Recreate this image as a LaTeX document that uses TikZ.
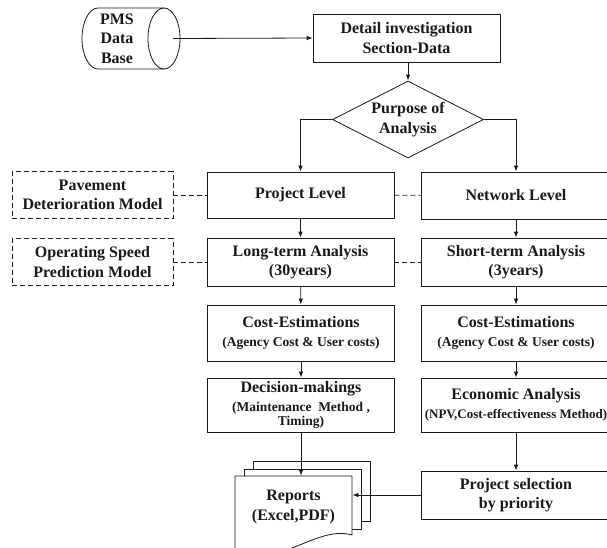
\documentclass[tikz,border=0pt]{standalone}
\usepackage{fontspec}
\setmainfont{Liberation Serif}
\usetikzlibrary{shapes.geometric,arrows.meta}
\newcommand\headfont{\fontsize{16}{19.5}\selectfont\bfseries}
\newcommand\subfont{\fontsize{13.5}{16}\selectfont\bfseries}
\tikzset{
  box/.style={draw,align=center,inner sep=0pt,font=\headfont},
  leftbox/.style={box,minimum width=187pt},
  rightbox/.style={box,minimum width=190pt},
  modelbox/.style={box,dash pattern=on 5pt off 3pt,minimum width=161pt,minimum height=47pt},
  link/.style={dash pattern=on 5pt off 3pt},
}
\begin{document}
\begin{tikzpicture}[x=1pt,y=-1pt,line width=0.8pt,color=black!90,
  >={Latex[length=6pt,width=4.5pt]}]
  \useasboundingbox (0,0) rectangle (607,547);
  \clip (0,0) rectangle (607,547);
  % data base drum
  \draw (164,8) arc(-90:90:16 and 30.5) -- (98,69) arc(90:270:16 and 30.5) -- cycle;
  \draw (164,8) arc(-90:-270:16 and 30.5);
  \node[font=\headfont,align=center,inner sep=0pt] (db) at (117,38.5) {PMS\\Data\\Base};
  \coordinate (dbcap) at (173,38.5);
  % top part
  \node[box,minimum width=187pt,minimum height=48pt] (detail) at (406.5,38) {Detail investigation\\Section-Data};
  \node[diamond,draw,aspect=1.96,minimum width=151pt,minimum height=77pt,inner sep=0pt,
    align=center,font=\headfont] (purpose) at (408,119.5) {Purpose of\\Analysis};
  % models
  \node[modelbox] (pavement) at (92.5,195) {Pavement\\Deterioration Model};
  \node[modelbox] (operating) at (92.5,262) {Operating Speed\\Prediction Model};
  % project level column
  \node[leftbox,minimum height=46pt] (project) at (300.5,195) {Project Level};
  \node[leftbox,minimum height=48pt] (longterm) at (300.5,262) {Long-term Analysis\\(30years)};
  \node[leftbox,minimum height=56pt] (costL) at (301,333)
    {Cost-Estimations\\{\subfont(Agency Cost \& User costs)}};
  \node[leftbox,minimum height=54pt] (decision) at (301,405)
    {Decision-makings\\[-1pt]{\subfont(Maintenance \ Method ,}\\[-5pt]{\subfont Timing)}};
  % network level column
  \node[rightbox,minimum height=47pt] (network) at (516,195.5) {Network Level};
  \node[rightbox,minimum height=48pt] (shortterm) at (516,262) {Short-term Analysis\\(3years)};
  \node[rightbox,minimum height=56pt] (costR) at (516,333)
    {Cost-Estimations\\{\subfont(Agency Cost \& User costs)}};
  \node[rightbox,minimum height=54pt] (economic) at (516,405)
    {Economic Analysis\\{\fontsize{13}{16}\selectfont\bfseries(NPV,Cost-effectiveness Method)}};
  \node[rightbox,minimum height=48pt] (selection) at (516,495) {Project selection\\by priority};
  % reports
  \draw[fill=white] (253,461) rectangle (370,521);
  \draw[fill=white] (244,469) rectangle (361,529);
  \draw[fill=white] (235,476) -- (352,476) -- (352,535)
    .. controls (318,525) and (282,566) .. (235,556) -- cycle;
  \node[minimum width=117pt,minimum height=62pt,align=center,inner sep=0pt,font=\headfont]
    (reports) at (293.5,507) {Reports\\(Excel,PDF)};
  % connectors
  \draw[->] (dbcap) -- (detail.west);
  \draw[->] (detail.south -| purpose.north) -- (purpose.north);
  \draw[->] (purpose.west) -| (project);
  \draw[->] (purpose.east) -| (network);
  \foreach \a/\b in {project/longterm,longterm/costL,costL/decision,
    network/shortterm,shortterm/costR,costR/economic,economic/selection}
    \draw[->] (\a) -- (\b);
  \foreach \a/\b in {pavement/project,operating/longterm,project/network,longterm/shortterm}
    \draw[link] (\a) -- (\b);
  \draw[->] (decision) -- (decision |- reports.north);
  \draw[->] (selection) -- (selection -| reports.east);
\end{tikzpicture}
\end{document}
